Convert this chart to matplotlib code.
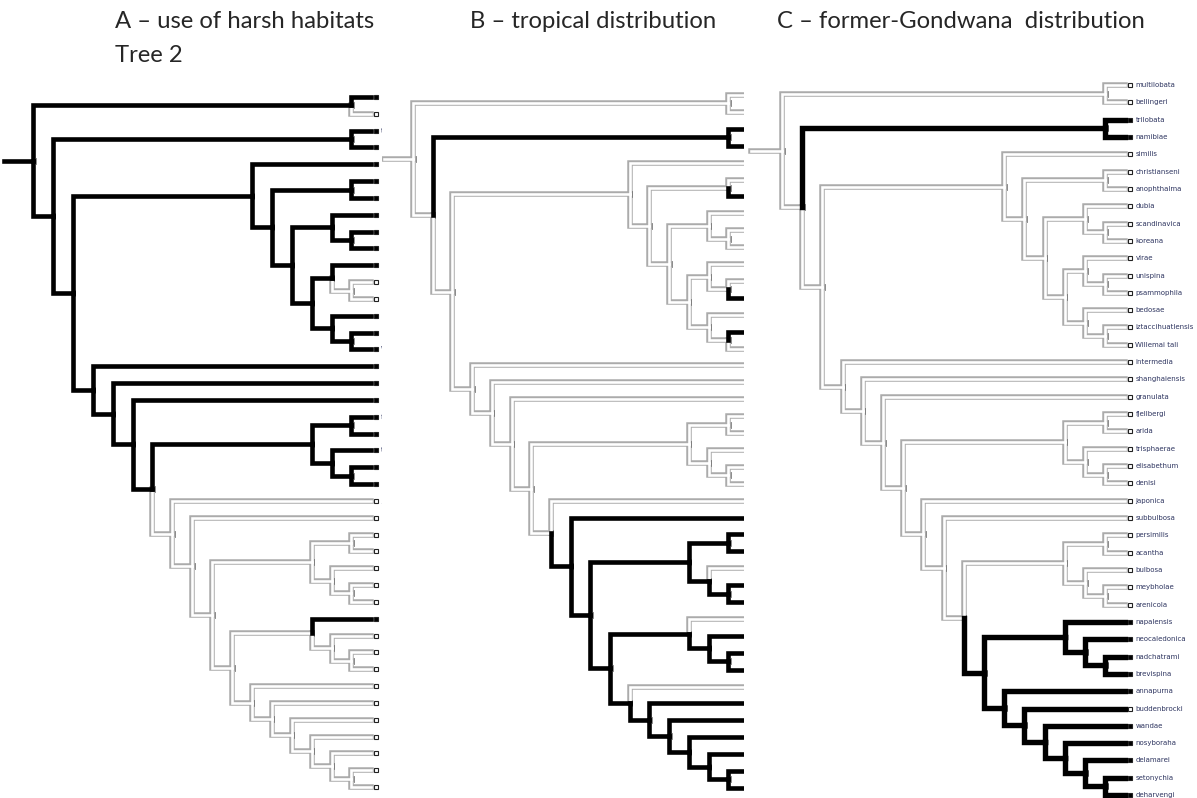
import numpy as np
import matplotlib
matplotlib.use("Agg")
import matplotlib.pyplot as plt

W, H = 1197, 798

# tip order (top to bottom)
taxa = ["multilobata", "bellingeri", "trilobata", "namibiae", "similis",
        "christianseni", "anophthalma", "dubia", "scandinavica", "koreana",
        "virae", "unispina", "psammophila", "bedosae", "iztaccihuatlensis",
        "Willemai tali", "intermedia", "shanghaiensis", "granulata", "fjellbergi",
        "arida", "trisphaerae", "elisabethum", "denisi", "japonica",
        "subbulbosa", "persimilis", "acantha", "bulbosa", "meybholae",
        "arenicola", "napalensis", "neocaledonica", "nadchatrami", "brevispina",
        "annapurna", "buddenbrocki", "wandae", "nosyboraha", "delamarei",
        "setonychia", "deharvengi"]

# topology (Tree 2)
clade_similis = ("similis", (("christianseni", "anophthalma"),
                 (("dubia", ("scandinavica", "koreana")),
                  (("virae", ("unispina", "psammophila")),
                   ("bedosae", ("iztaccihuatlensis", "Willemai tali"))))))
clade_fjell = (("fjellbergi", "arida"), ("trisphaerae", ("elisabethum", "denisi")))
clade_pers = (("persimilis", "acantha"), ("bulbosa", ("meybholae", "arenicola")))
clade_nap = ("napalensis", ("neocaledonica", ("nadchatrami", "brevispina")))
ladder_ann = ("annapurna", ("buddenbrocki", ("wandae", ("nosyboraha",
              ("delamarei", ("setonychia", "deharvengi"))))))
rest = ("intermedia", ("shanghaiensis", ("granulata", (clade_fjell,
        ("japonica", ("subbulbosa", (clade_pers, (clade_nap, ladder_ann))))))))
tree = (("multilobata", "bellingeri"), (("trilobata", "namibiae"), (clade_similis, rest)))

# tip states (1 = black square, 0 = open square)
tips_harsh = [1, 0, 1, 1, 1, 1, 1, 1, 1, 1, 1, 0, 0, 1, 1, 1, 1, 1, 1, 1, 1,
              1, 1, 1, 0, 0, 0, 0, 0, 0, 0, 1, 0, 0, 0, 0, 0, 0, 0, 0, 0, 0]
tips_tropical = [0, 0, 1, 1, 0, 0, 1, 0, 0, 0, 0, 0, 1, 0, 1, 0, 0, 0, 0, 0, 0,
                 0, 0, 0, 0, 1, 1, 1, 0, 1, 1, 0, 1, 1, 1, 0, 1, 1, 1, 1, 1, 1]
tips_gondwana = [0, 0, 1, 1, 0, 0, 0, 0, 0, 0, 0, 0, 0, 0, 0, 0, 0, 0, 0, 0, 0,
                 0, 0, 0, 0, 0, 0, 0, 0, 0, 0, 1, 1, 1, 1, 1, 0, 1, 1, 1, 1, 1]

# reconstructed branch states: root state + changes on clades (first tip, last tip)
root_harsh = 1
changes_harsh = {(1, 1): 0, (11, 12): 0, (24, 41): 0, (31, 31): 1}
root_tropical = 0
changes_tropical = {(2, 3): 1, (6, 6): 1, (12, 12): 1, (14, 14): 1,
                    (25, 41): 1, (28, 28): 0, (31, 31): 0, (35, 35): 0}
root_gondwana = 0
changes_gondwana = {(2, 3): 1, (31, 41): 1}


def build(node):
    if isinstance(node, str):
        i = taxa.index(node)
        return dict(h=0, y=float(i), lo=i, hi=i, kids=[])
    kids = [build(c) for c in node]
    return dict(h=1 + max(k["h"] for k in kids),
                y=np.mean([kids[0]["y"], kids[-1]["y"]]),
                lo=kids[0]["lo"], hi=kids[-1]["hi"], kids=kids)


root = build(tree)

GREY_OUT = "#ababab"
TUBE_W = 5.5 * 0.72
INNER_W = 2.6 * 0.72


def draw_panel(ax, p, tips, root_state, changes):
    hmax = root["h"]
    X = lambda n: p["x0"] + p["step"] * (hmax - n["h"])
    Y = lambda n: p["y0"] + p["dy"] * n["y"]
    segs = []  # (path x, path y, state)

    def walk(n, state):
        for k in n["kids"]:
            s = changes.get((k["lo"], k["hi"]), state)
            segs.append(([X(n), X(n), X(k)], [Y(n), Y(k), Y(k)], s))
            walk(k, s)

    walk(root, root_state)
    # root stub
    segs.append(([p["stub"], X(root)], [Y(root), Y(root)], root_state))

    kw = dict(solid_capstyle="projecting", solid_joinstyle="miter")
    for xs, ys, s in segs:
        if s == 0:
            ax.plot(xs, ys, color=GREY_OUT, lw=TUBE_W, zorder=1, **kw)
    for xs, ys, s in segs:
        if s == 0:
            ax.plot(xs, ys, color="white", lw=INNER_W, zorder=2, **kw)

    # small node ticks
    def ticks(n):
        if n["kids"]:
            ax.plot([X(n) + 2.5, X(n) + 2.5], [Y(n) - 3, Y(n) + 3],
                    color="#777777", lw=0.6, zorder=3)
            for k in n["kids"]:
                ticks(k)
    ticks(root)

    for xs, ys, s in segs:
        if s == 1:
            ax.plot(xs, ys, color="black", lw=p["black"] * 0.72, zorder=4, **kw)

    tip_x = X(dict(h=0))
    for i, name in enumerate(taxa):
        y = p["y0"] + p["dy"] * i
        ax.plot(tip_x + 5, y, marker="s", ms=3.5,
                mfc="black" if tips[i] else "white",
                mec="#222222", mew=0.8, zorder=5)
        ax.text(tip_x + 10, y, name, fontsize=5.0, color="#2e3560",
                va="center", ha="left", zorder=5, clip_on=True)


panels = [
    dict(x0=33, step=19.9, y0=97, dy=16.83, stub=4, left=0, right=382, black=4.6),
    dict(x0=413, step=19.7, y0=95, dy=16.9, stub=384, left=382, right=744, black=4.6),
    dict(x0=782, step=20.2, y0=85, dy=17.32, stub=751, left=744, right=W, black=5.4),
]
states = [(tips_harsh, root_harsh, changes_harsh),
          (tips_tropical, root_tropical, changes_tropical),
          (tips_gondwana, root_gondwana, changes_gondwana)]

fig = plt.figure(figsize=(W / 100, H / 100), dpi=100)
for p, (tips, rs, ch) in zip(panels, states):
    ax = fig.add_axes([p["left"] / W, 0, (p["right"] - p["left"]) / W, 1])
    ax.set_xlim(p["left"], p["right"])
    ax.set_ylim(H, 0)
    ax.axis("off")
    draw_panel(ax, p, tips, rs, ch)

title_kw = dict(fontsize=17.2, family="Lato", color="#262626", va="baseline", ha="left")
fig.text(115 / W, 1 - 28 / H, "A \u2013 use of harsh habitats", **title_kw)
fig.text(115 / W, 1 - 62 / H, "Tree 2", **title_kw)
fig.text(470 / W, 1 - 28 / H, "B \u2013 tropical distribution", **title_kw)
fig.text(777 / W, 1 - 28 / H, "C \u2013 former-Gondwana  distribution", **title_kw)

fig.savefig("out.png", dpi=100)
